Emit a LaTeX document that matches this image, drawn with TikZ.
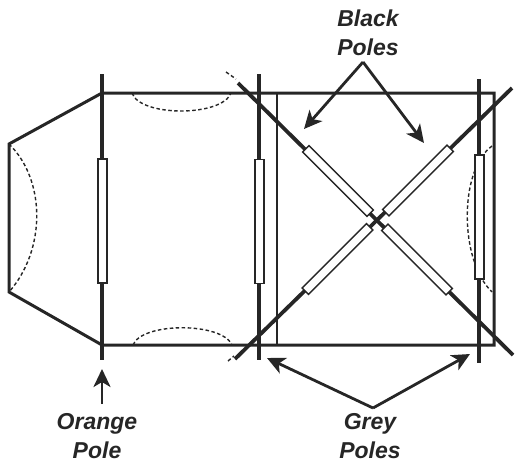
\documentclass[tikz,border=0pt]{standalone}
\usepackage{fontspec}
\setmainfont{Liberation Sans}
\usepackage{tikz}
\usetikzlibrary{arrows.meta}
\tikzset{
	pole/.style={line width=3.8pt},
	wall/.style={line width=3pt},
	seam/.style={line width=1.4pt,dash pattern=on 3.5pt off 2.5pt},
	sleeve/.style={draw,fill=white,line width=1.3pt,inner sep=0pt,minimum width=124pt,minimum height=9pt},
	pointer/.style={line width=2.8pt,-{Stealth[length=18pt,width=17pt,inset=5pt]}},
	polelabel/.style={font=\bfseries\itshape\fontsize{23}{29}\selectfont,align=center,text=black!85}
}
\begin{document}
\begin{tikzpicture}[x=1pt,y=-1pt,black!85]
	\useasboundingbox (0,0) rectangle (517,466);
	
	\coordinate (A) at (102,93);
	\coordinate (B) at (9,144);
	\coordinate (C) at (9,292);
	\coordinate (D) at (102,345);
	\coordinate (E) at (494,93);
	\coordinate (F) at (494,345);
	
	% outline
	\draw[wall] (E)--(A)--(B)--(C)--(D)--(F)--cycle;
	\draw[line width=1.8pt] (277,93)--(277,345);
	
	% seams
	\draw[seam] (9,144) .. controls (46,180) and (46,250) .. (9,292);
	\draw[seam] (132,93) .. controls (140,117) and (222,117) .. (231,93);
	\draw[seam] (133,345) .. controls (142,322) and (222,322) .. (232,345);
	\draw[seam] (226,72) -- (236,79);
	\draw[seam] (228,361) -- (234,356);
	\draw[seam] (492,146) .. controls (459,170) and (459,260) .. (492,292);
	
	% poles
	\draw[pole] (102,74)--(102,360);
	\draw[pole] (259,74)--(259,360);
	\draw[pole] (479,79)--(479,363);
	\draw[pole] (238,83)--(513,355);
	\draw[pole] (235,359)--(512,88);
	
	% sleeves
	\node[sleeve,rotate=90] (s1) at (102.5,221) {};
	\node[sleeve,rotate=90] (s2) at (259.5,221.5) {};
	\node[sleeve,rotate=90] (s3) at (479.5,217) {};
	\node[sleeve,minimum width=91pt,rotate=-45] (s4) at (338,181) {};
	\node[sleeve,minimum width=91pt,rotate=45] (s5) at (418,180.5) {};
	\node[sleeve,minimum width=91pt,rotate=45] (s6) at (337.5,259) {};
	\node[sleeve,minimum width=91pt,rotate=-45] (s7) at (417,259.5) {};
	
	% labels
	\node[polelabel] (black) at (368,33) {Black\\Poles};
	\node[polelabel] (grey) at (370,436) {Grey\\Poles};
	\node[polelabel] (orange) at (97,436) {Orange\\Pole};
	
	\coordinate (apex) at (363,62);
	\coordinate (base) at (373,408);
	\draw[pointer] (apex)--(304,129);
	\draw[pointer] (apex)--(424,143);
	\draw[pointer] (base)--(267,358);
	\draw[pointer] (base)--(470,354);
	\draw[pointer] (102,404)--(102,369);
\end{tikzpicture}
\end{document}
